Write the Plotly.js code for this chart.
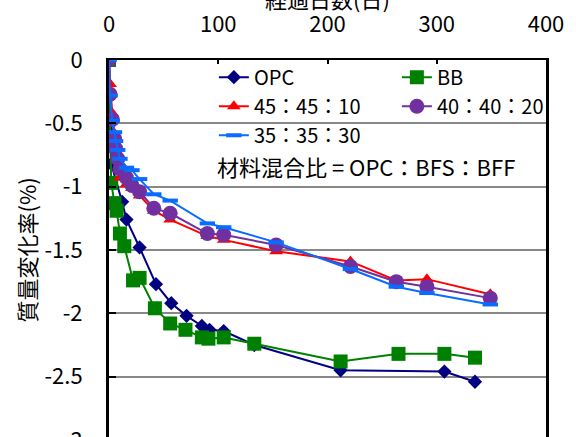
<!DOCTYPE html>
<html>
<head>
<meta charset="utf-8">
<script src="https://cdn.plot.ly/plotly-3.0.1.min.js"></script>
<style>
html,body{margin:0;padding:0;overflow:hidden;background:#fff;}
#chart{width:576px;height:480px;}
</style>
</head>
<body>
<div id="chart"></div>
<script>
// ---- data ----
const seriesNames = ["OPC", "BB", "45：45：10", "40：40：20", "35：35：30"];

const opcDays = [0, 1, 2, 12, 16, 28, 43, 57, 71, 85, 92, 105, 133, 212, 307, 335];
const opcVals = [0, -0.57, -0.82, -1.12, -1.26, -1.48, -1.77, -1.92, -2.02, -2.10, -2.13, -2.14, -2.25, -2.45, -2.46, -2.54];

const bbDays = [0, 1, 2, 5, 7, 10, 14, 22, 28, 42, 56, 70, 85, 91, 105, 133, 212, 265, 307, 335];
const bbVals = [0, -0.63, -0.97, -1.13, -1.19, -1.37, -1.47, -1.74, -1.72, -1.96, -2.08, -2.13, -2.19, -2.20, -2.19, -2.24, -2.38, -2.32, -2.32, -2.35];

const mixDays = [0, 1, 3, 5, 6, 8, 10, 16, 21, 28, 41, 56, 90, 105, 153, 221, 263, 291, 349];
const mix45Vals = [0, -0.19, -0.42, -0.58, -0.66, -0.75, -0.93, -0.98, -1.01, -1.07, -1.19, -1.26, -1.39, -1.42, -1.51, -1.59, -1.74, -1.73, -1.85];
const mix40Vals = [0, -0.27, -0.47, -0.62, -0.70, -0.78, -0.86, -0.93, -0.99, -1.04, -1.17, -1.21, -1.37, -1.38, -1.46, -1.63, -1.75, -1.79, -1.88];
const mix35Vals = [0, -0.28, -0.48, -0.57, -0.64, -0.71, -0.78, -0.85, -0.87, -0.94, -1.06, -1.11, -1.29, -1.32, -1.44, -1.65, -1.79, -1.84, -1.93];

const xTickVals = [0, 100, 200, 300, 400];
const xTickText = ["0", "100", "200", "300", "400"];
const yTickVals = [0, -0.5, -1, -1.5, -2, -2.5, -3];
const yTickText = ["0", "-0.5", "-1", "-1.5", "-2", "-2.5", "-3"];

const xTitle = "経過日数(日)";
const yTitle = "質量変化率(%)";
const noteText = "材料混合比 = OPC：BFS：BFF";

// ---- chart ----
const FONT = "Noto Sans CJK JP, Noto Sans, sans-serif";

function tr(x, y, name, color, symbol, size, lineW) {
  return {
    x: x, y: y, name: name, type: "scatter", mode: "lines+markers",
    line: {color: color, width: 2},
    marker: {symbol: symbol, size: size, color: color,
             line: {width: lineW || 0, color: color}}
  };
}

const traces = [
  tr(opcDays, opcVals, seriesNames[0], "#000080", "diamond", 11),
  tr(bbDays, bbVals, seriesNames[1], "#008000", "square", 14),
  tr(mixDays, mix45Vals, seriesNames[2], "#FF0000", "triangle-up", 12),
  tr(mixDays, mix40Vals, seriesNames[3], "#7030A0", "circle", 15),
  tr(mixDays, mix35Vals, seriesNames[4], "#0A6CFF", "line-ew", 11, 4)
];

const layout = {
  width: 576, height: 480,
  margin: {l: 109, r: 30, t: 60, b: 40, autoexpand: false},
  paper_bgcolor: "#fff", plot_bgcolor: "#fff",
  font: {family: FONT, size: 20, color: "#000"},
  showlegend: true,
  xaxis: {
    side: "top", range: [0, 400],
    tickmode: "array", tickvals: xTickVals, ticktext: xTickText,
    ticks: "inside", ticklen: 4, tickwidth: 2, tickcolor: "#000",
    showline: true, linecolor: "#000", linewidth: 2,
    showgrid: false, zeroline: false,
    tickfont: {size: 22, family: FONT},
    ticklabelstandoff: 17
  },
  yaxis: {
    range: [-3, 0],
    tickmode: "array", tickvals: yTickVals, ticktext: yTickText,
    ticks: "inside", ticklen: 7, tickwidth: 2, tickcolor: "#000",
    showline: true, linecolor: "#000", linewidth: 3, mirror: true,
    showgrid: true, gridcolor: "#888", gridwidth: 2,
    zeroline: false,
    tickfont: {size: 22, family: FONT},
    ticklabelstandoff: 19,
    title: {text: yTitle, font: {size: 22, family: FONT}, standoff: 2}
  },
  legend: {
    orientation: "h",
    x: 0.24, xanchor: "left",
    y: 1.006, yanchor: "top",
    entrywidth: 138,
    bgcolor: "rgba(255,255,255,0)",
    font: {size: 20, family: FONT, color: "#000"},
    itemclick: false
  },
  shapes: [{
    type: "rect", xref: "paper", yref: "paper",
    x0: 0.181, x1: 0.991, y0: 0.642, y1: 0.994,
    fillcolor: "#fff", line: {width: 0}, layer: "between"
  }],
  annotations: [
    {
      // x-axis title, sitting above the top axis (partly outside the view as in the reference)
      text: xTitle, xref: "paper", yref: "paper",
      x: 0.5, y: 1, xanchor: "center", yanchor: "bottom", yshift: 44,
      showarrow: false, font: {size: 22, family: FONT, color: "#000"}
    },
    {
      text: noteText, xref: "paper", yref: "paper",
      x: 0.589, y: 0.72, xanchor: "center", yanchor: "middle",
      showarrow: false, font: {size: 22, family: FONT, color: "#000"}
    }
  ]
};

Plotly.newPlot("chart", traces, layout, {staticPlot: true});
</script>
</body>
</html>
